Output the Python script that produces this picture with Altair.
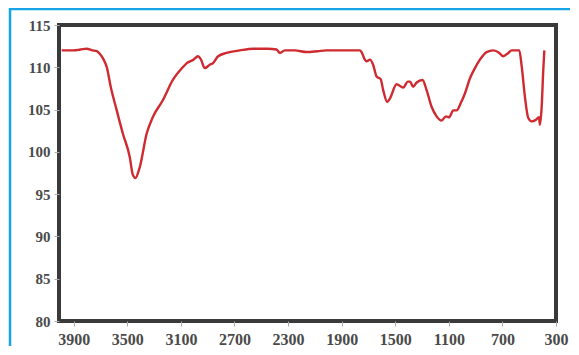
import altair as alt
import pandas as pd

wavenumber = [3990, 3900, 3850, 3803, 3760, 3728, 3706, 3680, 3653, 3624, 3579, 3534, 3482,
              3459, 3440, 3407, 3355, 3310, 3235, 3160, 3086, 3056, 3006, 2972, 2950, 2922,
              2885, 2860, 2822, 2760, 2660, 2561, 2450, 2386, 2361, 2324, 2250, 2162, 2080,
              2013, 1900, 1839, 1764, 1751, 1727, 1714, 1689, 1665, 1639, 1609, 1590, 1560,
              1540, 1490, 1441, 1405, 1390, 1366, 1340, 1296, 1266, 1228, 1191, 1154, 1122,
              1097, 1067, 1042, 1010, 980, 942, 905, 868, 818, 768, 723, 694, 656, 631, 574,
              556, 532, 507, 481, 449, 427, 420, 407, 395, 387]
transmittance = [112.0, 112.0, 112.1, 112.2, 112.0, 111.9, 111.6, 111.0, 110.0, 107.7, 104.9,
                 102.2, 99.4, 97.3, 96.9, 98.2, 102.2, 104.1, 106.1, 108.5, 110.0, 110.5,
                 110.9, 111.3, 110.9, 109.9, 110.3, 110.5, 111.3, 111.7, 112.0, 112.2, 112.2,
                 112.1, 111.7, 112.0, 112.0, 111.8, 111.9, 112.0, 112.0, 112.0, 112.0, 111.8,
                 110.9, 110.7, 110.9, 110.3, 108.9, 108.6, 107.3, 105.9, 106.3, 108.0, 107.6,
                 108.3, 108.3, 107.7, 108.2, 108.5, 107.3, 105.3, 104.2, 103.7, 104.2, 104.1,
                 104.9, 104.9, 105.8, 106.9, 108.7, 109.9, 110.9, 111.8, 112.0, 111.7, 111.3,
                 111.7, 112.0, 112.0, 110.1, 106.5, 104.0, 103.6, 103.8, 104.1, 103.2, 105.3,
                 109.7, 112.0]

x_ticks = [3900, 3500, 3100, 2700, 2300, 1900, 1500, 1100, 700, 300]
y_ticks = [80, 85, 90, 95, 100, 105, 110, 115]

df = pd.DataFrame({"wn": wavenumber, "t": transmittance, "order": list(range(len(wavenumber)))})

W, H = 497, 296

line = alt.Chart(df).mark_line(color="#cf2a30", strokeWidth=2.4, interpolate="monotone").encode(
    x=alt.X("wn:Q", scale=alt.Scale(domain=[4010, 300], nice=False, zero=False),
            axis=alt.Axis(values=x_ticks, format="d", title=None, grid=False, domain=False,
                          tickSize=5, tickColor="#aaaaaa", labelPadding=5,
                          labelFont="Liberation Serif", labelFontWeight="bold",
                          labelFontSize=16, labelColor="#4a4a4a", labelFlush=False)),
    y=alt.Y("t:Q", scale=alt.Scale(domain=[80, 115], nice=False, zero=False),
            axis=alt.Axis(values=y_ticks, format="d", title=None, grid=False, domain=False,
                          tickSize=5, tickColor="#aaaaaa", labelPadding=4,
                          labelFont="Liberation Serif", labelFontWeight="bold",
                          labelFontSize=15, labelColor="#4a4a4a")),
    order="order:Q",
)

one = alt.Chart(pd.DataFrame({"a": [0]}))
blue_left = one.mark_rule(color="#17a5e8", strokeWidth=2.5).encode(
    x=alt.value(-49), y=alt.value(-17), y2=alt.value(H + 30))
blue_top = one.mark_rule(color="#17a5e8", strokeWidth=2.5).encode(
    x=alt.value(-50), x2=alt.value(W + 20), y=alt.value(-16))

chart = alt.layer(line, blue_left, blue_top).properties(
    width=W, height=H,
    background="white",
    autosize=alt.AutoSizeParams(type="none"),
    padding={"left": 51, "top": 17, "right": 14, "bottom": 25},
).configure_view(stroke="#3a3a3a", strokeWidth=4)

chart.save("out.html", embed_options={"renderer": "svg", "actions": False})
